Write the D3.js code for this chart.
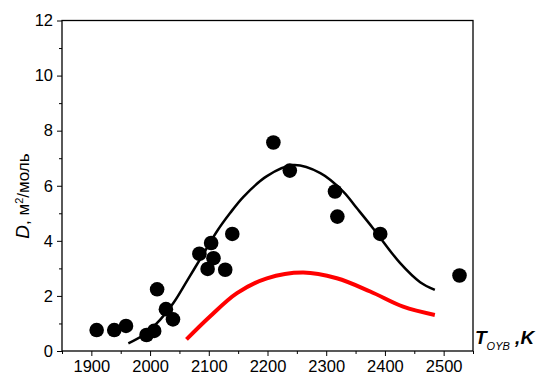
<!DOCTYPE html>
<html>
<head>
<meta charset="utf-8">
<script src="https://cdn.jsdelivr.net/npm/d3@7"></script>
<style>
  body { margin: 0; background: #fff; }
  svg { display: block; font-family: "Liberation Sans", Arial, sans-serif; }
</style>
</head>
<body>
<svg id="chart" width="542" height="374"></svg>
<script>
'use strict';

// measured points: temperature (K) and D (m^2/mol)
const pointT = [1909, 1939, 1959, 1994, 2007, 2012, 2027, 2039, 2084, 2098, 2104, 2108,
  2128, 2140, 2210, 2238, 2315, 2319, 2392, 2527];
const pointD = [0.76, 0.76, 0.91, 0.58, 0.73, 2.24, 1.52, 1.15, 3.53, 2.98, 3.92, 3.37,
  2.95, 4.25, 7.57, 6.55, 5.79, 4.88, 4.25, 2.74];

// fitted curve (black)
const fitT = [1963, 1990, 2017, 2040, 2065, 2090, 2114, 2136, 2159, 2199, 2244, 2290,
  2329, 2352, 2380, 2426, 2460, 2485];
const fitD = [0.28, 0.60, 1.13, 1.75, 2.62, 3.50, 4.35, 5.00, 5.60, 6.35, 6.75, 6.46,
  5.79, 5.19, 4.45, 3.19, 2.50, 2.22];

// calculated curve (red)
const calcT = [2062, 2102, 2148, 2199, 2261, 2318, 2375, 2431, 2485];
const calcD = [0.42, 1.25, 2.10, 2.64, 2.85, 2.64, 2.16, 1.61, 1.31];

const xMajor = [1900, 2000, 2100, 2200, 2300, 2400, 2500];
const xMinor = [1850, 1950, 2050, 2150, 2250, 2350, 2450, 2550];
const yMajor = [0, 2, 4, 6, 8, 10, 12];
const yMinor = [1, 3, 5, 7, 9, 11];

const svg = d3.select("#chart");
const plotLeft = 62, plotRight = 473, plotTop = 20.5, plotBottom = 351;

const x = d3.scaleLinear().domain([1850, 2550]).range([plotLeft, plotRight]);
const y = d3.scaleLinear().domain([0, 12]).range([plotBottom, plotTop]);

function styleAxis(g) {
  g.select(".domain").remove();
  g.selectAll("line").attr("stroke", "#000").attr("stroke-width", 1);
  g.selectAll("text").attr("fill", "#000").style("font-size", "16.5px");
}

svg.append("g")
  .attr("transform", "translate(0," + plotBottom + ")")
  .call(d3.axisBottom(x).tickValues(xMinor).tickSize(3).tickFormat(""))
  .call(styleAxis);
svg.append("g")
  .attr("transform", "translate(0," + plotBottom + ")")
  .call(d3.axisBottom(x).tickValues(xMajor).tickSize(5).tickPadding(4).tickFormat(d3.format("d")))
  .call(styleAxis);

svg.append("g")
  .attr("transform", "translate(" + plotLeft + ",0)")
  .call(d3.axisLeft(y).tickValues(yMinor).tickSize(3).tickFormat(""))
  .call(styleAxis);
svg.append("g")
  .attr("transform", "translate(" + plotLeft + ",0)")
  .call(d3.axisLeft(y).tickValues(yMajor).tickSize(5).tickPadding(4).tickFormat(d3.format("d")))
  .call(styleAxis);

// frame
svg.append("rect")
  .attr("x", plotLeft).attr("y", plotTop)
  .attr("width", plotRight - plotLeft).attr("height", plotBottom - plotTop)
  .attr("fill", "none").attr("stroke", "#000").attr("stroke-width", 1.3);

const line = d3.line()
  .x(d => x(d[0]))
  .y(d => y(d[1]))
  .curve(d3.curveCatmullRom.alpha(0.5));

svg.append("path")
  .datum(calcT.map((t, i) => [t, calcD[i]]))
  .attr("d", line)
  .attr("fill", "none").attr("stroke", "#ff0000").attr("stroke-width", 4);

svg.append("path")
  .datum(fitT.map((t, i) => [t, fitD[i]]))
  .attr("d", line)
  .attr("fill", "none").attr("stroke", "#000").attr("stroke-width", 2.5);

svg.append("g")
  .selectAll("circle")
  .data(pointT.map((t, i) => [t, pointD[i]]))
  .join("circle")
  .attr("cx", d => x(d[0]))
  .attr("cy", d => y(d[1]))
  .attr("r", 7.3)
  .attr("fill", "#000");

// y axis title
const yTitle = svg.append("text")
  .attr("transform", "translate(29,196) rotate(-90)")
  .attr("text-anchor", "middle")
  .style("font-size", "17px");
yTitle.append("tspan").style("font-style", "italic").style("font-size", "19px").text("D");
yTitle.append("tspan").text(", м");
yTitle.append("tspan").attr("dy", -6).style("font-size", "11px").text("2");
yTitle.append("tspan").attr("dy", 6).text("/моль");

// x axis title
const xTitle = svg.append("text")
  .attr("x", 475).attr("y", 344)
  .style("font-weight", "bold").style("font-style", "italic")
  .style("font-size", "19px");
xTitle.append("tspan").text("T");
xTitle.append("tspan").attr("dy", 6).style("font-size", "11px").style("font-weight", "normal").text("OYB");
xTitle.append("tspan").attr("dy", -6).text(" ,K");
</script>
</body>
</html>
